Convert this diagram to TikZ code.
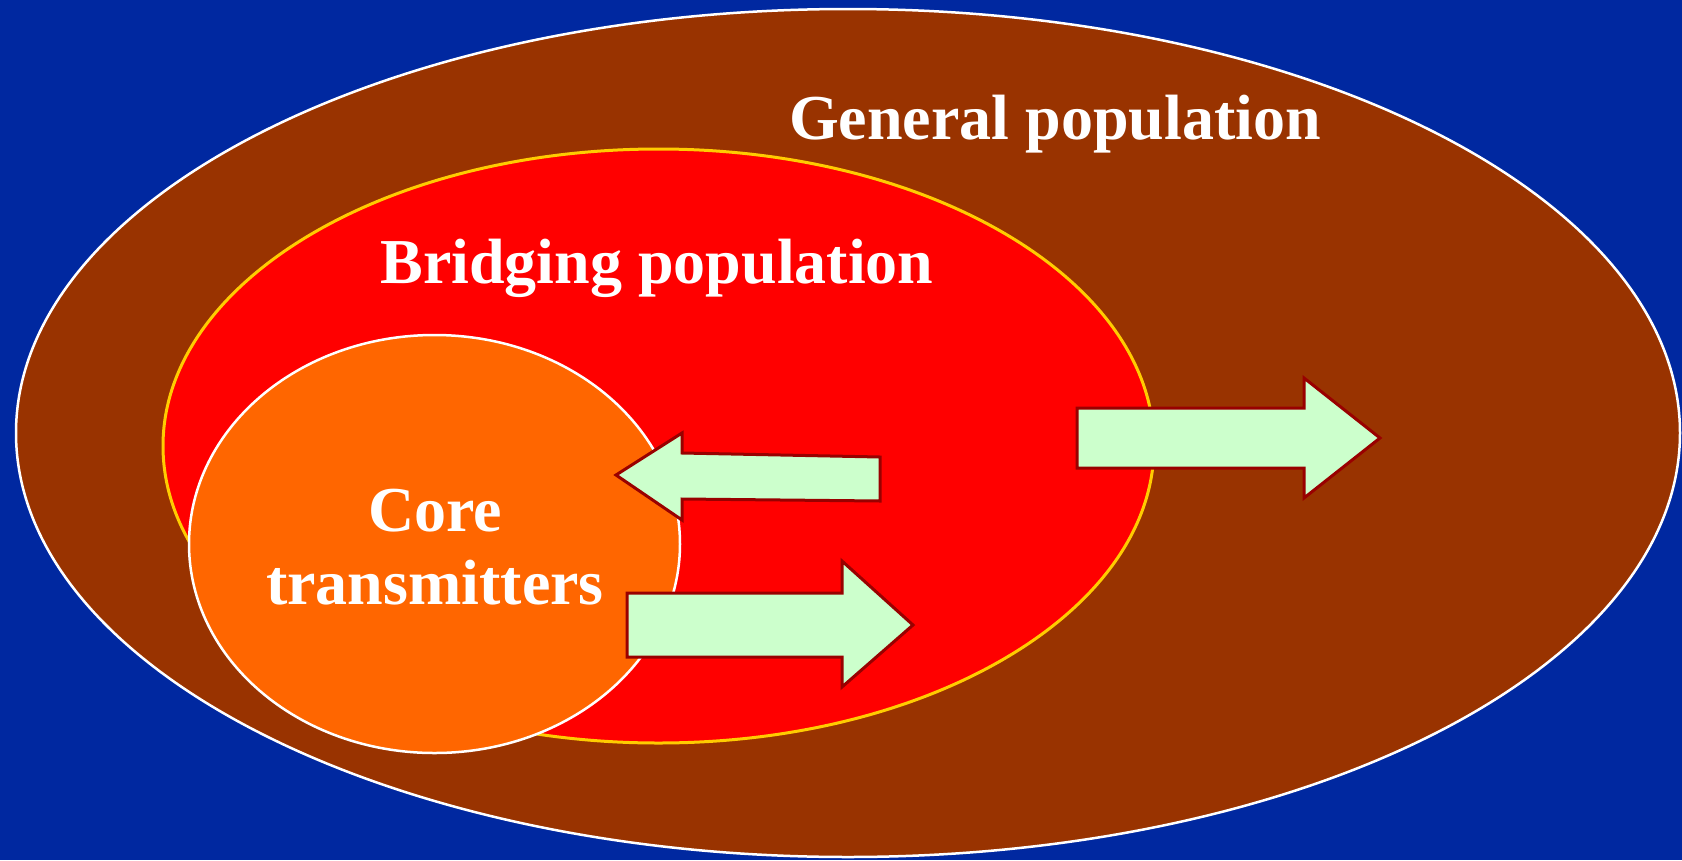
\documentclass[tikz,border=0pt]{standalone}
\usepackage{fontspec}
\setmainfont{Liberation Serif}
\definecolor{bgblue}{RGB}{0,40,160}
\definecolor{genbrown}{RGB}{153,51,0}
\definecolor{bridred}{RGB}{255,0,0}
\definecolor{coreorange}{RGB}{255,102,0}
\definecolor{arrowgreen}{RGB}{204,255,204}
\definecolor{arrowedge}{RGB}{153,0,0}
\definecolor{bridedge}{RGB}{255,204,0}
\tikzset{
  flowarrow/.style={fill=arrowgreen, draw=arrowedge, line width=3pt, line join=miter},
  biglabel/.style={text=white, font=\bfseries\fontsize{64}{73}\selectfont, inner sep=0pt, anchor=base}
}
\begin{document}
\begin{tikzpicture}[x=1pt,y=-1pt]
\useasboundingbox (0,0) rectangle (1682,860);
\fill[bgblue] (0,0) rectangle (1682,860);
% populations
\draw[fill=genbrown, draw=white, line width=2.5pt] (848,433) ellipse [x radius=832pt, y radius=424pt];
\draw[fill=bridred, draw=bridedge, line width=3pt] (658.5,446) ellipse [x radius=495.5pt, y radius=297pt];
\draw[fill=coreorange, draw=white, line width=2.5pt] (434.5,544) ellipse [x radius=245.5pt, y radius=209pt];
% arrows
\draw[flowarrow] (616,475) -- (682,433) -- (682,453) -- (880,457) -- (880,501) -- (682,499) -- (682,520) -- cycle;
\draw[flowarrow] (627,593) -- (842,593) -- (842,561) -- (913,625) -- (842,687) -- (842,657) -- (627,657) -- cycle;
\draw[flowarrow] (1077,408) -- (1304,408) -- (1304,378) -- (1380,438) -- (1304,498) -- (1304,468) -- (1077,468) -- cycle;
% labels
\node[biglabel] (gen) at (1055,139) {General population};
\node[biglabel] (bridge) at (657,283) {Bridging population};
\node[biglabel] (core1) at (435,531) {Core};
\node[biglabel] (core2) at (435,604) {transmitters};
\end{tikzpicture}
\end{document}
